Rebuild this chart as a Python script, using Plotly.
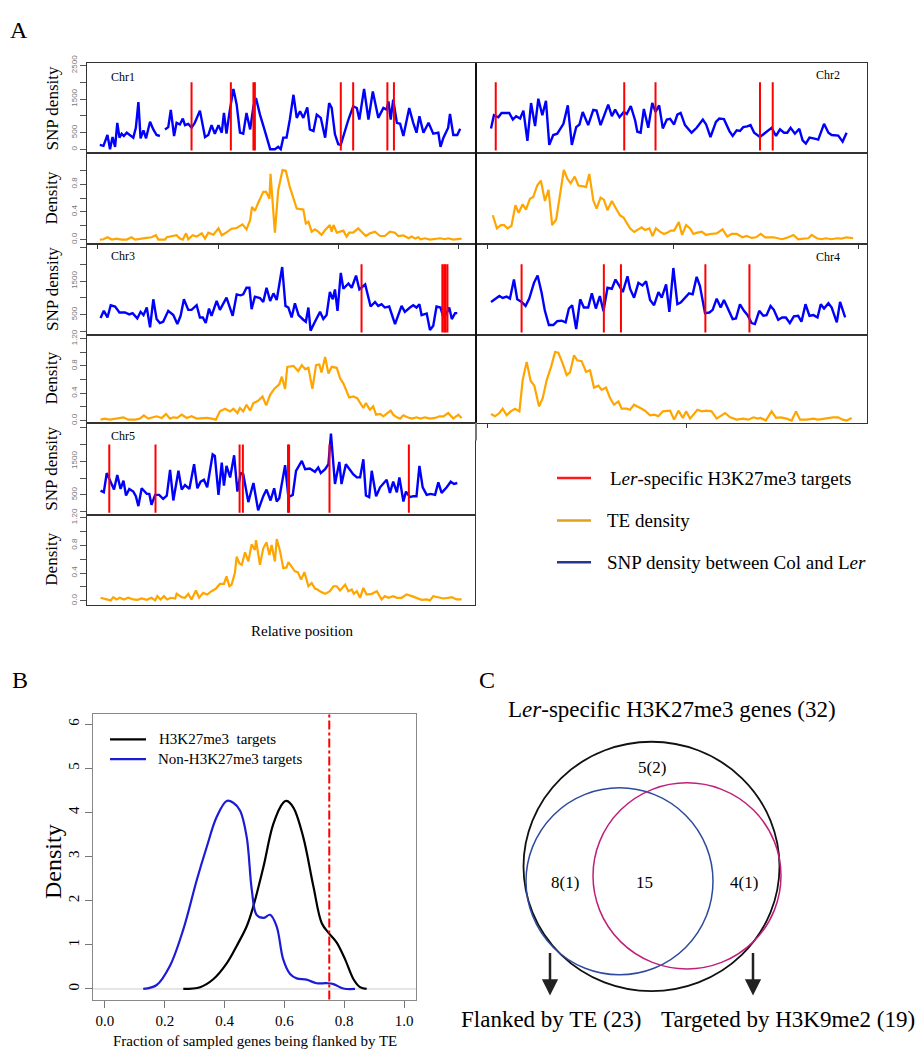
import plotly.graph_objects as go

# ====================== DATA ======================
# Panel A: relative position along chromosome (0..1), SNP density, TE density
CHR1_SNP_POS = [0.005,0.015,0.026,0.033,0.040,0.047,0.053,0.059,0.065,0.071,0.079,0.088,0.097,0.104,0.111,0.117,0.125,0.132,0.143,0.152,0.161,0.170,None,
                0.184,0.193,0.200,0.209,0.216,0.225,0.233,0.239,0.248,0.257,0.266,0.280,0.294,0.303,0.312,0.321,0.331,0.340,0.346,0.353,
                0.361,0.372,0.381,0.390,0.399,0.408,0.418,0.427,0.434,0.445,0.459,0.473,0.486,0.495,0.502,0.509,0.518,0.527,0.537,0.546,
                0.555,0.564,0.575,0.582,0.592,0.601,0.612,0.624,0.635,0.642,0.651,0.660,0.667,0.679,0.688,0.701,0.711,0.718,0.731,0.743,
                0.755,0.770,0.784,0.793,0.798,0.804,0.811,0.821,0.830,0.839,0.855,0.866,0.875,0.883,0.894,0.908,0.921,0.935,0.941,0.949,
                0.962,0.967,0.976,0.987,0.995]
CHR1_SNP = [137,108,431,10,372,78,794,353,470,402,500,431,353,647,1411,333,568,333,823,598,431,402,None,
            598,666,1176,402,794,745,921,725,764,647,794,1156,372,431,725,470,725,500,1088,470,
            1088,1803,1333,500,470,1088,598,1284,1529,1039,529,10,10,78,10,353,353,892,1627,941,
            1137,941,1254,598,549,1039,941,353,1382,1235,451,157,137,598,892,1284,1235,892,1803,892,
            1725,941,1235,1186,1431,892,1480,794,764,402,1235,794,500,990,500,794,470,500,78,353,
            647,1058,431,431,617]
CHR1_TE_POS = [0.005,0.015,0.026,0.038,0.051,0.065,0.079,0.092,0.102,0.115,0.134,0.147,0.159,0.166,0.184,0.189,0.202,0.216,0.225,0.233,
               0.242,0.248,0.260,0.271,0.285,0.294,0.303,0.317,0.331,0.340,0.353,0.367,0.381,0.397,0.408,0.418,0.423,0.431,0.440,0.454,
               0.462,0.471,0.474,0.486,0.495,0.507,0.516,0.527,0.546,0.564,0.571,0.578,0.587,0.596,0.605,0.614,0.624,0.633,0.637,0.642,
               0.647,0.656,0.665,0.674,0.683,0.690,0.701,0.715,0.724,0.736,0.747,0.761,0.775,0.788,0.802,0.816,0.825,0.839,0.853,0.862,
               0.871,0.880,0.886,0.898,0.912,0.926,0.940,0.953,0.962,0.976,0.990,0.999]
CHR1_TE = [0.0,0.005,0.033,0.0,0.014,0.0,0.0,0.033,0.0,0.014,0.024,0.033,0.062,0.0,0.0,0.033,0.043,0.062,0.014,0.0,
           0.090,0.005,0.062,0.043,0.090,0.014,0.100,0.071,0.162,0.062,0.105,0.157,0.167,0.219,0.148,0.281,0.471,0.414,0.529,0.690,
           0.690,0.590,0.948,0.100,0.710,1.005,0.995,0.757,0.448,0.433,0.233,0.257,0.114,0.148,0.114,0.067,0.138,0.186,0.210,0.114,
           0.210,0.100,0.114,0.129,0.043,0.100,0.100,0.162,0.114,0.052,0.090,0.114,0.052,0.052,0.114,0.100,0.052,0.062,0.019,0.043,
           0.014,0.033,0.005,0.019,0.0,0.005,0.019,0.005,0.019,0.0,0.005,0.014]
CHR1_TARGETS = [0.257,0.365,0.427,0.431,0.667,0.701,0.795,0.813]

CHR2_SNP_POS = [0.0,0.008,0.020,0.029,0.050,0.060,0.069,0.080,0.089,0.100,0.110,0.121,0.130,0.141,0.151,0.160,0.171,0.182,0.199,0.211,
                0.222,0.234,0.243,0.252,0.267,0.281,0.290,0.301,0.322,0.332,0.341,0.353,0.365,0.373,0.384,0.396,0.402,0.411,0.420,0.432,
                0.443,0.452,0.462,0.472,0.483,0.492,0.503,0.512,0.521,0.533,0.551,0.565,0.582,0.591,0.603,0.618,0.627,0.640,0.655,0.664,
                0.675,0.684,0.693,0.704,0.713,0.723,0.739,0.755,0.771,0.783,0.794,0.805,0.814,0.823,0.835,0.847,0.856,0.865,0.875,0.886,
                0.899,0.915,0.927,0.936,0.954,0.966,0.977]
CHR2_SNP = [627,1019,960,1088,1088,892,990,921,1156,255,1382,696,1509,1019,1450,137,431,470,764,1313,
            137,666,745,1117,725,1176,1156,725,1333,990,1186,960,1117,1058,1294,862,529,500,1205,647,
            1382,1117,1313,627,892,911,745,1039,1088,725,500,647,892,745,372,823,921,902,549,402,
            568,549,666,686,725,500,372,500,647,402,598,500,500,647,470,617,274,176,353,333,
            294,764,500,431,412,235,500]
CHR2_TE_POS = [0.005,0.016,0.027,0.036,0.045,0.056,0.067,0.076,0.087,0.096,0.107,0.116,0.127,0.137,0.148,0.158,0.168,0.179,0.190,0.200,
               0.210,0.219,0.230,0.240,0.254,0.261,0.270,0.281,0.290,0.301,0.310,0.320,0.332,0.345,0.354,0.364,0.373,0.382,0.393,0.405,
               0.414,0.423,0.435,0.444,0.453,0.464,0.475,0.484,0.494,0.503,0.516,0.525,0.536,0.547,0.556,0.567,0.579,0.591,0.602,0.620,
               0.636,0.649,0.661,0.675,0.691,0.702,0.716,0.728,0.741,0.753,0.776,0.799,0.812,0.831,0.844,0.858,0.872,0.881,0.895,0.908,
               0.920,0.936,0.950,0.963,0.977,0.995]
CHR2_TE = [0.352,0.162,0.210,0.210,0.162,0.195,0.495,0.386,0.510,0.433,0.590,0.614,0.781,0.852,0.557,0.719,0.210,0.290,0.662,1.005,
           0.876,0.814,0.910,0.781,0.767,0.757,0.948,0.567,0.448,0.605,0.576,0.424,0.557,0.424,0.352,0.319,0.233,0.162,0.110,0.148,
           0.176,0.138,0.162,0.052,0.162,0.114,0.081,0.100,0.129,0.129,0.252,0.067,0.210,0.162,0.081,0.100,0.114,0.067,0.081,0.090,
           0.148,0.043,0.081,0.081,0.033,0.052,0.024,0.033,0.081,0.033,0.033,0.005,0.024,0.067,0.005,0.014,0.019,0.067,0.019,0.005,
           0.019,0.005,0.019,0.014,0.033,0.019]
CHR2_TARGETS = [0.013,0.366,0.452,0.739,0.774]

CHR3_SNP_POS = [0.007,0.016,0.026,0.035,0.047,0.059,0.074,0.086,0.095,0.108,0.117,0.125,0.134,0.143,0.152,0.161,0.170,0.179,0.193,0.207,
                0.218,0.227,0.236,0.248,0.257,0.271,0.280,0.288,0.296,0.305,0.312,0.326,0.335,0.353,0.370,0.381,0.392,0.399,0.408,0.416,
                0.422,0.431,0.445,0.454,0.463,0.473,0.482,0.491,0.506,0.515,0.523,0.532,0.541,0.551,0.564,0.571,0.578,0.584,0.596,0.610,
                0.619,0.628,0.637,0.645,0.651,0.658,0.667,0.674,0.688,0.697,0.709,0.718,0.734,0.749,0.761,0.770,0.779,0.788,0.800,0.816,
                0.834,0.843,0.857,0.866,0.875,0.883,0.889,0.903,0.912,0.921,0.930,0.941,0.949,0.958,0.965,0.972,0.981,0.987]
CHR3_SNP = [402,617,421,784,745,568,568,510,549,392,588,490,715,127,960,372,255,294,617,490,
            225,470,960,647,647,784,421,421,255,686,470,911,647,1009,470,1107,1078,1107,1303,1303,
            666,1039,1000,882,1303,911,1137,941,1921,764,715,421,843,490,353,294,715,29,294,588,
            372,490,1176,960,1254,617,1744,1274,1431,1303,1666,1254,1401,745,882,764,813,715,745,225,
            764,588,715,784,715,813,490,539,49,176,745,715,421,549,715,372,549,549]
CHR3_TE_POS = [0.007,0.019,0.033,0.051,0.070,0.083,0.102,0.115,0.126,0.138,0.152,0.161,0.175,0.187,0.198,0.207,0.218,0.230,0.244,0.257,
               0.271,0.285,0.299,0.312,0.324,0.335,0.349,0.363,0.372,0.383,0.390,0.399,0.408,0.418,0.427,0.440,0.452,0.462,0.473,0.484,
               0.498,0.505,0.514,0.520,0.537,0.550,0.560,0.569,0.578,0.589,0.599,0.608,0.614,0.624,0.633,0.642,0.656,0.665,0.674,0.690,
               0.701,0.712,0.720,0.729,0.736,0.747,0.756,0.764,0.775,0.784,0.795,0.804,0.811,0.821,0.830,0.839,0.850,0.862,0.875,0.886,
               0.898,0.912,0.926,0.938,0.949,0.962,0.976,0.990,0.999]
CHR3_TE = [0.014,0.029,0.014,0.029,0.048,0.014,0.014,0.029,0.077,0.029,0.048,0.063,0.039,0.097,0.029,0.048,0.039,0.087,0.039,0.063,
           0.029,0.039,0.039,0.029,0.014,0.135,0.174,0.135,0.174,0.111,0.184,0.135,0.232,0.145,0.256,0.290,0.353,0.222,0.377,0.464,
           0.531,0.643,0.464,0.787,0.802,0.725,0.812,0.754,0.773,0.464,0.812,0.821,0.705,0.932,0.691,0.787,0.773,0.618,0.546,0.338,
           0.353,0.329,0.256,0.184,0.256,0.159,0.208,0.087,0.097,0.063,0.111,0.145,0.087,0.048,0.029,0.077,0.048,0.029,0.048,0.029,
           0.048,0.029,0.039,0.063,0.063,0.111,0.029,0.087,0.039]
CHR3_TARGETS = [0.724,0.946,0.951,0.955,0.960]

CHR4_SNP_POS = [0.0,0.011,0.023,0.032,0.043,0.052,0.063,0.072,0.084,0.095,0.105,0.118,0.128,0.139,0.148,0.159,0.171,0.182,0.194,0.205,
                0.214,0.223,0.234,0.245,0.255,0.267,0.277,0.288,0.299,0.309,0.320,0.332,0.342,0.353,0.362,0.375,0.382,0.393,0.405,0.416,
                0.426,0.437,0.448,0.460,0.469,0.481,0.490,0.501,0.512,0.521,0.533,0.544,0.554,0.565,0.574,0.588,0.600,0.609,0.620,0.631,
                0.640,0.652,0.664,0.673,0.684,0.695,0.705,0.716,0.725,0.737,0.748,0.757,0.768,0.777,0.789,0.800,0.810,0.821,0.832,0.844,
                0.853,0.864,0.875,0.886,0.897,0.906,0.915,0.927,0.936,0.950,0.959,0.973]
CHR4_SNP = [882,960,1058,1000,1039,980,1548,960,882,764,980,1450,1666,1156,617,196,196,314,323,274,
            686,784,78,960,715,715,1137,686,1058,608,1303,1274,1548,1352,1176,1646,1274,1009,1450,1372,
            1499,941,784,1176,1009,1401,588,1891,813,862,1009,1137,1107,1627,1352,549,568,647,980,715,
            941,666,372,392,813,617,490,255,225,617,470,490,764,647,353,421,421,255,451,470,
            294,813,470,490,421,813,686,843,715,274,882,421]
CHR4_TE_POS = [0.0,0.011,0.023,0.032,0.043,0.054,0.066,0.078,0.087,0.098,0.109,0.119,0.132,0.142,0.153,0.165,0.176,0.185,0.197,0.208,
               0.217,0.228,0.237,0.249,0.261,0.272,0.283,0.295,0.304,0.316,0.327,0.338,0.350,0.359,0.373,0.382,0.393,0.403,0.414,0.423,
               0.437,0.449,0.460,0.472,0.492,0.503,0.515,0.527,0.536,0.547,0.567,0.579,0.592,0.606,0.620,0.643,0.657,0.675,0.693,0.707,
               0.721,0.732,0.741,0.755,0.771,0.783,0.796,0.812,0.826,0.838,0.849,0.867,0.886,0.899,0.913,0.927,0.940,0.954,0.966,0.977,
               0.991]
CHR4_TE = [0.097,0.063,0.111,0.174,0.077,0.135,0.174,0.135,0.594,0.860,0.580,0.512,0.208,0.329,0.594,0.787,1.005,0.995,0.836,0.667,
           0.705,0.957,0.884,0.870,0.715,0.739,0.483,0.512,0.449,0.483,0.329,0.232,0.280,0.174,0.174,0.159,0.232,0.208,0.174,0.145,
           0.077,0.087,0.063,0.135,0.145,0.014,0.145,0.039,0.135,0.029,0.159,0.135,0.145,0.135,0.029,0.111,0.048,0.014,0.029,0.014,
           0.048,0.029,0.039,0.0,0.135,0.039,0.048,0.029,0.0,0.135,0.014,0.014,0.029,0.014,0.029,0.039,0.048,0.048,0.014,0.0,
           0.039]
CHR4_TARGETS = [0.084,0.310,0.357,0.589,0.710]

CHR5_SNP_POS = [0.007,0.016,0.024,0.033,0.044,0.053,0.062,0.070,0.077,0.086,0.097,0.104,0.111,0.120,0.134,0.141,0.147,0.157,0.168,0.179,
                0.189,0.198,0.207,0.221,0.230,0.239,0.251,0.264,0.273,0.282,0.291,0.300,0.315,0.321,0.331,0.340,0.346,0.353,0.363,0.374,
                0.383,0.392,0.399,0.413,0.427,0.440,0.454,0.463,0.474,0.484,0.491,0.498,0.514,0.523,0.535,0.544,0.560,0.569,0.582,0.596,
                0.605,0.612,0.624,0.633,0.640,0.651,0.663,0.669,0.681,0.701,0.711,0.720,0.729,0.736,0.745,0.752,0.764,0.775,0.784,0.793,
                0.802,0.811,0.821,0.828,0.839,0.846,0.857,0.866,0.875,0.883,0.892,0.903,0.914,0.926,0.935,0.944,0.958,0.969,0.978,0.987]
CHR5_SNP = [627,578,1147,921,657,1088,676,921,480,676,598,461,167,696,529,529,206,500,500,382,
            480,1245,333,1215,657,794,676,1411,696,892,951,725,1705,1656,500,1460,774,1362,1019,1676,
            598,1147,1117,284,853,39,461,657,333,696,304,402,1382,431,500,1215,1509,1264,1284,1186,
            1313,1147,1264,1411,2323,823,1480,823,1411,1117,1019,1019,1558,480,431,1215,461,725,823,951,
            559,892,578,1019,304,598,431,461,461,1362,725,500,529,500,872,559,725,892,823,853]
CHR5_TE_POS = [0.007,0.016,0.026,0.035,0.042,0.051,0.060,0.071,0.083,0.097,0.108,0.120,0.134,0.147,0.157,0.163,0.172,0.181,0.190,0.200,
               0.212,0.216,0.230,0.239,0.248,0.257,0.269,0.278,0.289,0.300,0.312,0.324,0.335,0.346,0.353,0.361,0.367,0.376,0.381,0.388,
               0.395,0.404,0.413,0.422,0.431,0.434,0.445,0.454,0.463,0.471,0.477,0.486,0.491,0.500,0.509,0.518,0.523,0.532,0.541,0.549,
               0.558,0.567,0.578,0.587,0.596,0.603,0.612,0.624,0.637,0.647,0.656,0.665,0.679,0.688,0.697,0.703,0.711,0.720,0.729,0.738,
               0.752,0.766,0.779,0.788,0.798,0.811,0.821,0.834,0.848,0.862,0.875,0.889,0.903,0.912,0.921,0.935,0.949,0.962,0.972,0.985,
               0.999]
CHR5_TE = [0.043,0.033,0.014,0.005,0.052,0.019,0.043,0.019,0.043,0.019,0.014,0.033,0.014,0.043,0.005,0.067,0.019,0.067,0.019,0.043,
           0.033,0.100,0.052,0.043,0.100,0.019,0.148,0.043,0.114,0.090,0.138,0.176,0.243,0.243,0.352,0.210,0.233,0.400,0.638,0.543,
           0.519,0.700,0.567,0.814,0.733,0.876,0.519,0.757,0.843,0.662,0.805,0.567,0.890,0.719,0.471,0.481,0.557,0.495,0.424,0.414,
           0.305,0.414,0.210,0.257,0.176,0.162,0.129,0.100,0.138,0.210,0.210,0.148,0.233,0.138,0.162,0.100,0.138,0.043,0.186,0.090,
           0.100,0.138,0.019,0.067,0.043,0.067,0.043,0.043,0.090,0.067,0.043,0.014,0.019,0.005,0.067,0.052,0.033,0.043,0.052,0.019,
           0.019]
CHR5_TARGETS = [0.031,0.158,0.389,0.398,0.522,0.525,0.636,0.854]

TARGET_SPAN = [-30, 2000]          # vertical extent of the target-gene marks (SNP units)
SNP_TICKS = [0, 500, 1000, 1500, 2000, 2500]
TE_TICKS = [0.0, 0.2, 0.4, 0.6, 0.8, 1.0, 1.2]

# Panel B: density of fraction of sampled genes flanked by TE
B_X_H3K27 = [0.262,0.318,0.362,0.407,0.440,0.474,0.496,0.530,0.563,0.596,0.607,0.630,0.663,0.697,0.725,0.749,0.775,0.803,0.831,0.853,0.875]
B_Y_H3K27 = [0.0,0.04,0.22,0.58,0.97,1.42,1.87,2.77,3.74,4.22,4.26,4.11,3.44,2.32,1.49,1.26,1.05,0.67,0.22,0.04,0.0]
B_X_NON = [0.128,0.173,0.217,0.262,0.307,0.340,0.373,0.407,0.429,0.452,0.474,0.491,0.507,0.530,0.552,0.574,0.596,0.619,0.641,0.674,0.708,0.741,0.764,0.797,0.836]
B_Y_NON = [0.0,0.09,0.52,1.35,2.47,3.21,3.89,4.26,4.22,4.04,3.44,2.24,1.68,1.61,1.68,1.42,0.67,0.34,0.24,0.21,0.13,0.13,0.11,0.01,0.0]
OBSERVED_FRACTION = 0.75
B_XTICKS = [0.0, 0.2, 0.4, 0.6, 0.8, 1.0]
B_YTICKS = [0, 1, 2, 3, 4, 5, 6]

# Panel C: Venn counts
VENN_REGION_LABELS = ["5(2)", "8(1)", "15", "4(1)"]
VENN_TOTAL = 32
VENN_TE = 23
VENN_K9 = 19

# ====================== STYLE / LAYOUT ======================
W, H = 919, 1054
SERIF = "Liberation Serif"
SANS = "Liberation Sans"
BLUE, ORANGE, RED = "#0000FF", "#FFA500", "#FF0000"
BOX = "#333333"


def fx(p):
    return p / W


def fy(p):
    return 1 - p / H


LEFT = dict(x0=87, x1=475, xr=[-0.0302, 1.0357])
RIGHT = dict(x0=477, x1=867, xr=[-0.0385, 1.0330])
ROWS = [(55, 146, 237), (237, 329, 418), (418, 511, 602)]
SNP_RANGES = [[-118, 2560], [-88, 2618], [-88, 2647]]
TE_RANGES = [[-0.057, 1.243], [-0.03, 1.26], [-0.057, 1.243]]

CHROMS = [
    dict(name="Chr1", col=LEFT, row=0, snpx=CHR1_SNP_POS, snp=CHR1_SNP, tex=CHR1_TE_POS, te=CHR1_TE, tg=CHR1_TARGETS,
         snp_text=["0", "500", "", "1500", "", "2500"], te_vals=TE_TICKS[:6], te_text=["0.0", "", "0.4", "", "0.8", ""],
         xt=[0, 0.33, 0.66, 0.99], label=(123, 69)),
    dict(name="Chr2", col=RIGHT, row=0, snpx=CHR2_SNP_POS, snp=CHR2_SNP, tex=CHR2_TE_POS, te=CHR2_TE, tg=CHR2_TARGETS,
         snp_text=None, te_vals=None, te_text=None, xt=[-0.011, 0.5, 1.011], label=(828, 67)),
    dict(name="Chr3", col=LEFT, row=1, snpx=CHR3_SNP_POS, snp=CHR3_SNP, tex=CHR3_TE_POS, te=CHR3_TE, tg=CHR3_TARGETS,
         snp_text=["", "500", "", "1500", "", ""], te_vals=TE_TICKS, te_text=["0.0", "", "0.4", "", "0.8", "", "1.20"],
         xt=None, label=(123, 250)),
    dict(name="Chr4", col=RIGHT, row=1, snpx=CHR4_SNP_POS, snp=CHR4_SNP, tex=CHR4_TE_POS, te=CHR4_TE, tg=CHR4_TARGETS,
         snp_text=None, te_vals=None, te_text=None, xt=[-0.011, 0.536], label=(828, 251)),
    dict(name="Chr5", col=LEFT, row=2, snpx=CHR5_SNP_POS, snp=CHR5_SNP, tex=CHR5_TE_POS, te=CHR5_TE, tg=CHR5_TARGETS,
         snp_text=["", "500", "", "1500", "", ""], te_vals=TE_TICKS, te_text=["0.0", "", "0.4", "", "0.8", "", "1.20"],
         xt=None, label=(123, 431)),
]

fig = go.Figure()
layout = {}
annotations = []
shapes = []


def txt(x, y, s, size, anchor="center", angle=0, color="black"):
    return dict(x=fx(x), y=fy(y), xref="paper", yref="paper", text=s, showarrow=False,
                font=dict(family=SERIF, size=size, color=color), xanchor=anchor, yanchor="middle",
                textangle=angle)


def axname(k, a):
    return f"{a}axis" if k == 1 else f"{a}axis{k}"


def ref(k, a):
    return a if k == 1 else f"{a}{k}"


SMALL_TICKFONT = dict(family=SANS, size=8, color="#777")

k = 0
for c in CHROMS:
    top, mid, bot = ROWS[c["row"]]
    col = c["col"]
    left_col = col is LEFT
    # --- SNP panel ---
    k += 1
    fig.add_trace(go.Scatter(x=c["snpx"], y=c["snp"], mode="lines", line=dict(color=BLUE, width=2.4),
                             connectgaps=False, xaxis=ref(k, "x"), yaxis=ref(k, "y"), hoverinfo="skip"))
    tx, ty = [], []
    for p in c["tg"]:
        tx += [p, p, None]
        ty += [TARGET_SPAN[0], TARGET_SPAN[1], None]
    fig.add_trace(go.Scatter(x=tx, y=ty, mode="lines", line=dict(color=RED, width=2),
                             xaxis=ref(k, "x"), yaxis=ref(k, "y"), hoverinfo="skip"))
    layout[axname(k, "x")] = dict(domain=[fx(col["x0"]), fx(col["x1"])], range=col["xr"], anchor=ref(k, "y"),
                                  showgrid=False, zeroline=False, showline=True, mirror=True, linecolor=BOX,
                                  linewidth=1.2, ticks="", showticklabels=False)
    ya = dict(domain=[fy(mid), fy(top)], range=SNP_RANGES[c["row"]], anchor=ref(k, "x"), showgrid=False,
              zeroline=False, showline=True, mirror=True, linecolor=BOX, linewidth=1.2)
    if c["snp_text"] is not None:
        ya.update(tickvals=SNP_TICKS, ticktext=c["snp_text"], ticks="outside", ticklen=6, tickcolor="#555",
                  tickangle=-90, tickfont=SMALL_TICKFONT)
    else:
        ya.update(ticks="", showticklabels=False)
    layout[axname(k, "y")] = ya
    # --- TE panel ---
    k += 1
    fig.add_trace(go.Scatter(x=c["tex"], y=c["te"], mode="lines", line=dict(color=ORANGE, width=2.2),
                             xaxis=ref(k, "x"), yaxis=ref(k, "y"), hoverinfo="skip"))
    xa = dict(domain=[fx(col["x0"]), fx(col["x1"])], range=col["xr"], anchor=ref(k, "y"),
              showgrid=False, zeroline=False, showline=True, mirror=True, linecolor=BOX,
              linewidth=1.2, showticklabels=False)
    if c["xt"] is not None:
        xa.update(tickvals=c["xt"], ticks="outside", ticklen=4, tickcolor="#333")
    else:
        xa.update(ticks="")
    layout[axname(k, "x")] = xa
    ya = dict(domain=[fy(bot), fy(mid)], range=TE_RANGES[c["row"]], anchor=ref(k, "x"), showgrid=False,
              zeroline=False, showline=True, mirror=True, linecolor=BOX, linewidth=1.2)
    if c["te_vals"] is not None:
        ya.update(tickvals=c["te_vals"], ticktext=c["te_text"], ticks="outside", ticklen=6, tickcolor="#555",
                  tickangle=-90, tickfont=SMALL_TICKFONT)
    else:
        ya.update(ticks="", showticklabels=False)
    layout[axname(k, "y")] = ya
    # labels
    annotations.append(txt(c["label"][0], c["label"][1], c["name"], 12))
    if left_col:
        annotations.append(txt(52, (top + mid) / 2, "SNP density", 17, angle=-90))
        annotations.append(txt(52, (mid + bot) / 2, "Density", 17, angle=-90))

# heavier column separator and stub below Chr4 panel
shapes.append(dict(type="line", xref="paper", yref="paper", x0=fx(476), x1=fx(476), y0=fy(418), y1=fy(55),
                   line=dict(color="#111", width=2)))
shapes.append(dict(type="line", xref="paper", yref="paper", x0=fx(476), x1=fx(476), y0=fy(418), y1=fy(436),
                   line=dict(color="#777", width=2)))

annotations.append(txt(302, 629, "Relative position", 15))
annotations.append(txt(19, 21, "A", 24))

# Panel A legend
LEG_A = [(474, "#FF1A1A", "L<i>er</i>-specific H3K27me3 targets", 608),
         (517, "#E0A21A", "TE density", 605),
         (559, "#26378F", "SNP density between Col and L<i>er</i>", 605)]
for yy, colr, s, xt in LEG_A:
    shapes.append(dict(type="line", xref="paper", yref="paper", x0=fx(557), x1=fx(591), y0=fy(yy), y1=fy(yy),
                       line=dict(color=colr, width=2.5)))
    annotations.append(txt(xt, yy, s, 19, anchor="left"))

# ---------------- Panel B ----------------
k += 1
fig.add_trace(go.Scatter(x=B_X_H3K27, y=B_Y_H3K27, mode="lines", line=dict(color="black", width=2.2, shape="spline"),
                         xaxis=ref(k, "x"), yaxis=ref(k, "y"), hoverinfo="skip"))
fig.add_trace(go.Scatter(x=B_X_NON, y=B_Y_NON, mode="lines", line=dict(color="#1c1cd6", width=2.2, shape="spline"),
                         xaxis=ref(k, "x"), yaxis=ref(k, "y"), hoverinfo="skip"))
layout[axname(k, "x")] = dict(domain=[fx(93), fx(416)], range=[-0.04, 1.04], anchor=ref(k, "y"), showgrid=False,
                              zeroline=False, showline=True, mirror=True, linecolor="#888", linewidth=1.3,
                              tickvals=B_XTICKS, ticktext=[f"{v:.1f}" for v in B_XTICKS], ticks="outside", ticklen=7,
                              tickcolor="#777", tickfont=dict(family=SERIF, size=15, color="black"))
layout[axname(k, "y")] = dict(domain=[fy(1001), fy(712)], range=[-0.24, 6.24], anchor=ref(k, "x"), showgrid=False,
                              zeroline=False, showline=True, mirror=True, linecolor="#888", linewidth=1.3,
                              tickvals=B_YTICKS, ticks="outside", ticklen=7, tickcolor="#777", tickangle=-90,
                              tickfont=dict(family=SERIF, size=15, color="black"))
shapes.append(dict(type="line", xref=f"x{k} domain", yref=f"y{k}", x0=0, x1=1, y0=0, y1=0,
                   line=dict(color="#cccccc", width=1), layer="below"))
shapes.append(dict(type="line", xref=f"x{k}", yref=f"y{k} domain", x0=OBSERVED_FRACTION, x1=OBSERVED_FRACTION,
                   y0=0, y1=1, line=dict(color="red", width=2, dash="dashdot")))
annotations.append(txt(53, 862, "Density", 24, angle=-90))
annotations.append(txt(255, 1043, "Fraction of sampled genes being flanked by TE", 15))
annotations.append(txt(20, 678, "B", 24))
shapes.append(dict(type="line", xref="paper", yref="paper", x0=fx(110), x1=fx(146), y0=fy(738), y1=fy(738),
                   line=dict(color="black", width=2.2)))
shapes.append(dict(type="line", xref="paper", yref="paper", x0=fx(110), x1=fx(146), y0=fy(758), y1=fy(758),
                   line=dict(color="#1c1cd6", width=2.2)))
annotations.append(txt(157, 738, "H3K27me3  targets", 15, anchor="left"))
annotations.append(txt(156, 758, "Non-H3K27me3 targets", 15, anchor="left"))

# ---------------- Panel C (Venn) ----------------
VENN_CIRCLES = [((651.5, 866.5), (128, 126), "#111111", 1.8),
                ((619.5, 881.5), (93.5, 94.5), "#2E4A9E", 1.5),
                ((687.0, 876.0), (94, 94), "#C0207A", 1.5)]
for (cx, cy), (rx, ry), colr, wdt in VENN_CIRCLES:
    shapes.append(dict(type="circle", xref="paper", yref="paper", x0=fx(cx - rx), x1=fx(cx + rx),
                       y0=fy(cy + ry), y1=fy(cy - ry), line=dict(color=colr, width=wdt)))
VENN_LABEL_POS = [(652, 766), (565, 883), (644, 883), (744, 883)]
for (x, y), s in zip(VENN_LABEL_POS, VENN_REGION_LABELS):
    annotations.append(txt(x, y, s, 17))
annotations.append(txt(487, 678, "C", 24))
annotations.append(txt(672, 708, f"L<i>er</i>-specific H3K27me3 genes ({VENN_TOTAL})", 23))
annotations.append(txt(551, 1021, f"Flanked by TE ({VENN_TE})", 23))
annotations.append(txt(788, 1021, f"Targeted by H3K9me2 ({VENN_K9})", 23))
for ax_x in (550, 753):
    annotations.append(dict(x=fx(ax_x), y=fy(997), xref="paper", yref="paper", ax=0, ay=-44, showarrow=True,
                            arrowhead=2, arrowsize=1.3, arrowwidth=2.5, arrowcolor="#222", text=""))

layout.update(width=W, height=H, margin=dict(l=0, r=0, t=0, b=0), paper_bgcolor="white", plot_bgcolor="white",
              showlegend=False, annotations=annotations, shapes=shapes,
              font=dict(family=SERIF))
fig.update_layout(**layout)
fig.write_html("out.html")
